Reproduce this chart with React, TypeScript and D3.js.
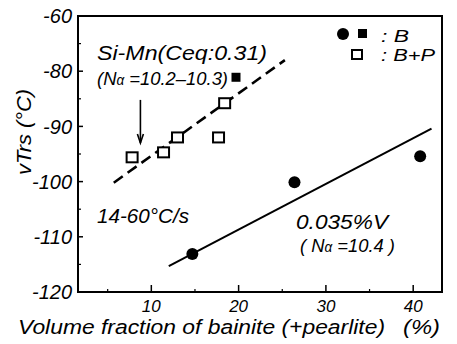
import React from 'react';
import * as d3 from 'd3';

// B (bainite) – filled circles, 0.035%V steel
const vSteelFrac = [14.7, 26.4, 40.8];
const vSteelTrs = [-113.1, -100.1, -95.4];
// B – filled square, Si-Mn steel
const siMnBFrac = [19.7];
const siMnBTrs = [-81.1];
// B+P – open squares, Si-Mn steel
const siMnBPFrac = [7.8, 11.4, 13.0, 17.7, 18.4];
const siMnBPTrs = [-95.6, -94.7, -92.0, -92.0, -85.8];
// fitted lines
const siMnFitFrac = [5.7, 25.3];
const siMnFitTrs = [-100.2, -78.0];
const vFitFrac = [12.0, 42.1];
const vFitTrs = [-115.3, -90.4];

const yTickValues = [-120, -110, -100, -90, -80, -70];
const yTickLabels = ['-120', '-110', '-100', '-90', '-80', '-60'];
const yMinorTicks = [-115, -105, -95, -85, -75];
const xTickValues = [10, 20, 30, 40];
const xMinorTicks = [5, 15, 25, 35];

const W = 457;
const H = 344;
const font = "'Liberation Sans', Arial, sans-serif";

export default function App() {
  const x = d3.scaleLinear().domain([1.6, 43.3]).range([78, 442]);
  const y = d3.scaleLinear().domain([-120, -70]).range([292, 16]);
  const [x0, x1] = x.range();
  const [y0, y1] = y.range();

  const line = d3
    .line<[number, number]>()
    .x((d) => x(d[0]))
    .y((d) => y(d[1]));

  const siMnFit = siMnFitFrac.map((f, i) => [f, siMnFitTrs[i]] as [number, number]);
  const vFit = vFitFrac.map((f, i) => [f, vFitTrs[i]] as [number, number]);

  // arrow pointing at the Si-Mn line
  const ax = x(8.75);
  const aTop = y(-85.2);
  const aBot = y(-93.0);

  const txt = { fontFamily: font, fontStyle: 'italic' as const, fill: '#000' };

  return (
    <svg
      width={W}
      height={H}
      style={{ position: 'absolute', left: 0, top: 0, background: '#fff' }}
    >
      {/* frame */}
      <rect x={x0} y={y1} width={x1 - x0} height={y0 - y1} fill="none" stroke="#000" strokeWidth={2} />

      {/* y ticks */}
      {yTickValues.map((v, i) => (
        <g key={'y' + v}>
          <line x1={x0} x2={x0 + 5} y1={y(v)} y2={y(v)} stroke="#000" strokeWidth={1.5} />
          <text x={72} y={y(v)} dy="0.36em" textAnchor="end" fontSize={20} {...txt}>
            {yTickLabels[i]}
          </text>
        </g>
      ))}
      {yMinorTicks.map((v) => (
        <line key={'ym' + v} x1={x0} x2={x0 + 3} y1={y(v)} y2={y(v)} stroke="#000" strokeWidth={1.2} />
      ))}

      {/* x ticks */}
      {xTickValues.map((v) => (
        <g key={'x' + v}>
          <line x1={x(v)} x2={x(v)} y1={y0} y2={y0 - 7} stroke="#000" strokeWidth={1.5} />
          <text x={x(v)} y={312} textAnchor="middle" fontSize={17} {...txt}>
            {v}
          </text>
        </g>
      ))}
      {xMinorTicks.map((v) => (
        <line key={'xm' + v} x1={x(v)} x2={x(v)} y1={y0} y2={y0 - 3} stroke="#000" strokeWidth={1.2} />
      ))}

      {/* axis titles */}
      <text x={18} y={334} fontSize={20} textLength={367} lengthAdjust="spacingAndGlyphs" {...txt}>
        Volume fraction of bainite (+pearlite)
      </text>
      <text x={403} y={334} fontSize={20} textLength={37} lengthAdjust="spacingAndGlyphs" {...txt}>
        (%)
      </text>
      <text
        transform={`translate(31,132) rotate(-90)`}
        textAnchor="middle"
        fontSize={21}
        textLength={86}
        lengthAdjust="spacingAndGlyphs"
        {...txt}
      >
        vTrs (°C)
      </text>

      {/* fitted lines */}
      <path d={line(siMnFit) ?? ''} fill="none" stroke="#000" strokeWidth={2.6} strokeDasharray="11,6" />
      <path d={line(vFit) ?? ''} fill="none" stroke="#000" strokeWidth={2} />

      {/* arrow */}
      <path d={`M${ax},${aTop} L${ax},${aBot}`} stroke="#000" strokeWidth={1.6} fill="none" />
      <path
        d={`M${ax - 3},${aBot - 9} L${ax},${aBot} L${ax + 3},${aBot - 9}`}
        stroke="#000"
        strokeWidth={1.6}
        fill="none"
      />

      {/* points */}
      {vSteelFrac.map((f, i) => (
        <circle key={'c' + i} cx={x(f)} cy={y(vSteelTrs[i])} r={6} fill="#000" />
      ))}
      {siMnBFrac.map((f, i) => (
        <rect key={'fs' + i} x={x(f) - 4.5} y={y(siMnBTrs[i]) - 4.5} width={9} height={9} fill="#000" />
      ))}
      {siMnBPFrac.map((f, i) => (
        <rect
          key={'os' + i}
          x={x(f) - 5.5}
          y={y(siMnBPTrs[i]) - 5}
          width={11}
          height={10}
          fill="#fff"
          stroke="#000"
          strokeWidth={2}
        />
      ))}

      {/* annotations */}
      <text x={97} y={60} fontSize={20} textLength={170} lengthAdjust="spacingAndGlyphs" {...txt}>
        Si-Mn(Ceq:0.31)
      </text>
      <text x={97} y={85} fontSize={19} textLength={131} lengthAdjust="spacingAndGlyphs" {...txt}>
        (N<tspan fontSize={14}>α</tspan> =10.2–10.3)
      </text>
      <text x={97} y={223} fontSize={20} textLength={92} lengthAdjust="spacingAndGlyphs" {...txt}>
        14-60°C/s
      </text>
      <text x={296} y={229} fontSize={20} textLength={92} lengthAdjust="spacingAndGlyphs" {...txt}>
        0.035%V
      </text>
      <text x={300} y={252} fontSize={19} textLength={95} lengthAdjust="spacingAndGlyphs" {...txt}>
        ( N<tspan fontSize={14}>α</tspan> =10.4 )
      </text>

      {/* legend */}
      <circle cx={343} cy={34} r={6} fill="#000" />
      <rect x={358} y={29} width={9} height={9} fill="#000" />
      <rect x={352} y={50} width={10} height={9} fill="#fff" stroke="#000" strokeWidth={2} />
      <text x={381} y={42} fontSize={16} textLength={28} lengthAdjust="spacingAndGlyphs" {...txt}>
        : B
      </text>
      <text x={381} y={61} fontSize={16} textLength={54} lengthAdjust="spacingAndGlyphs" {...txt}>
        : B+P
      </text>
    </svg>
  );
}
